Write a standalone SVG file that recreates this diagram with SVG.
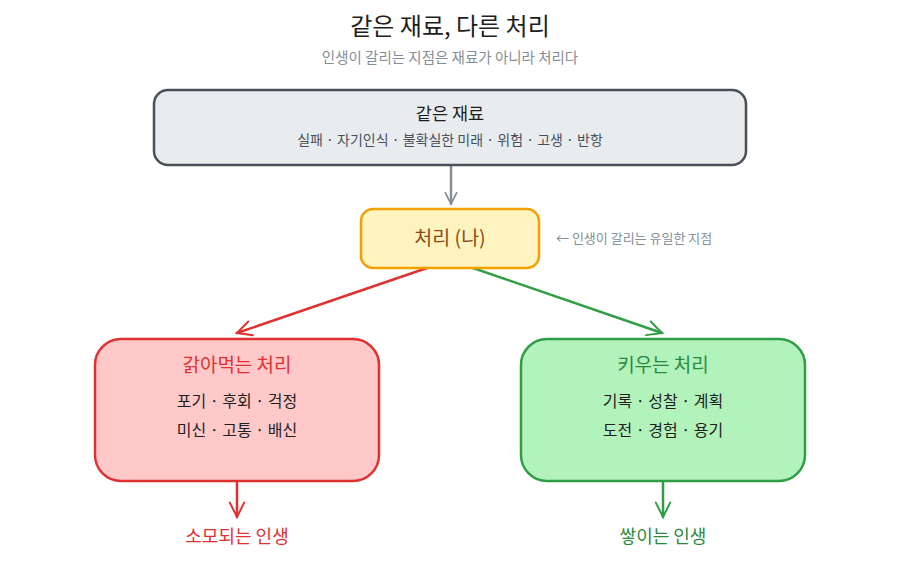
<svg xmlns="http://www.w3.org/2000/svg" width="900" height="564" viewBox="0 0 900 564">
<style>
text{font-family:"Noto Sans CJK KR","Noto Sans",sans-serif;text-anchor:middle}
text.start{text-anchor:start}
.title{font-size:24px;fill:#1e1e1e}
.sub{font-size:14.5px;fill:#868e96}
.box{stroke-width:2.5;stroke-linejoin:round}
.item{font-size:16px;fill:#1e1e1e}
.conn{fill:none;stroke-width:2.5;stroke-linecap:round}
</style>
<defs>
<marker id="ag" viewBox="0 0 20 20" refX="18" refY="10" markerWidth="14" markerHeight="14" markerUnits="userSpaceOnUse" orient="auto"><path d="M2,2 L18,10 L2,18" fill="none" stroke="#868e96" stroke-width="2.5" stroke-linecap="round"/></marker>
<marker id="ar" viewBox="0 0 20 20" refX="18" refY="10" markerWidth="18" markerHeight="18" markerUnits="userSpaceOnUse" orient="auto"><path d="M2,2 L18,10 L2,18" fill="none" stroke="#e03131" stroke-width="2.2" stroke-linecap="round"/></marker>
<marker id="agr" viewBox="0 0 20 20" refX="18" refY="10" markerWidth="18" markerHeight="18" markerUnits="userSpaceOnUse" orient="auto"><path d="M2,2 L18,10 L2,18" fill="none" stroke="#2f9e44" stroke-width="2.2" stroke-linecap="round"/></marker>
</defs>
<rect width="900" height="564" fill="#ffffff"/>
<text class="title" x="450" y="35">같은 재료, 다른 처리</text>
<text class="sub" x="450" y="63">인생이 갈리는 지점은 재료가 아니라 처리다</text>

<g id="connectors">
<path class="conn" d="M451,166 L451,204" stroke="#868e96" marker-end="url(#ag)"/>
<path class="conn" d="M427,268 L237,333" stroke="#e03131" marker-end="url(#ar)"/>
<path class="conn" d="M473,268 L662,333" stroke="#2f9e44" marker-end="url(#agr)"/>
<path class="conn" d="M237,482 L237,517" stroke="#e03131" marker-end="url(#ar)"/>
<path class="conn" d="M663,482 L663,517" stroke="#2f9e44" marker-end="url(#agr)"/>
</g>

<g id="material">
<rect class="box" x="154" y="90" width="592" height="75" rx="14" fill="#e9ecef" stroke="#495057"/>
<text x="450" y="120" font-size="17.5" fill="#1e1e1e">같은 재료</text>
<text x="450" y="145" font-size="14" fill="#495057">실패 · 자기인식 · 불확실한 미래 · 위험 · 고생 · 반항</text>
</g>

<g id="process">
<rect class="box" x="361" y="209" width="178" height="59" rx="12" fill="#fff3bf" stroke="#f59f00"/>
<text x="450" y="245" font-size="19.5" fill="#8a4a17">처리 (나)</text>
</g>
<text class="start" x="556" y="243" font-size="13" fill="#868e96">← 인생이 갈리는 유일한 지점</text>

<g id="eroding">
<rect class="box" x="95" y="339" width="284" height="142" rx="26" fill="#ffc9c9" stroke="#e03131"/>
<text x="237" y="372" font-size="19" fill="#e03131">갉아먹는 처리</text>
<text class="item" x="237" y="407">포기 · 후회 · 걱정</text>
<text class="item" x="237" y="436">미신 · 고통 · 배신</text>
</g>

<g id="growing">
<rect class="box" x="521" y="339" width="284" height="142" rx="26" fill="#b2f2bb" stroke="#2f9e44"/>
<text x="663" y="372" font-size="19" fill="#2b8a3e">키우는 처리</text>
<text class="item" x="663" y="407">기록 · 성찰 · 계획</text>
<text class="item" x="663" y="436">도전 · 경험 · 용기</text>
</g>

<g id="consumed">
<text x="237" y="543" font-size="18" fill="#e03131">소모되는 인생</text>
</g>
<g id="accumulated">
<text x="663" y="543" font-size="18" fill="#2b8a3e">쌓이는 인생</text>
</g>
</svg>
